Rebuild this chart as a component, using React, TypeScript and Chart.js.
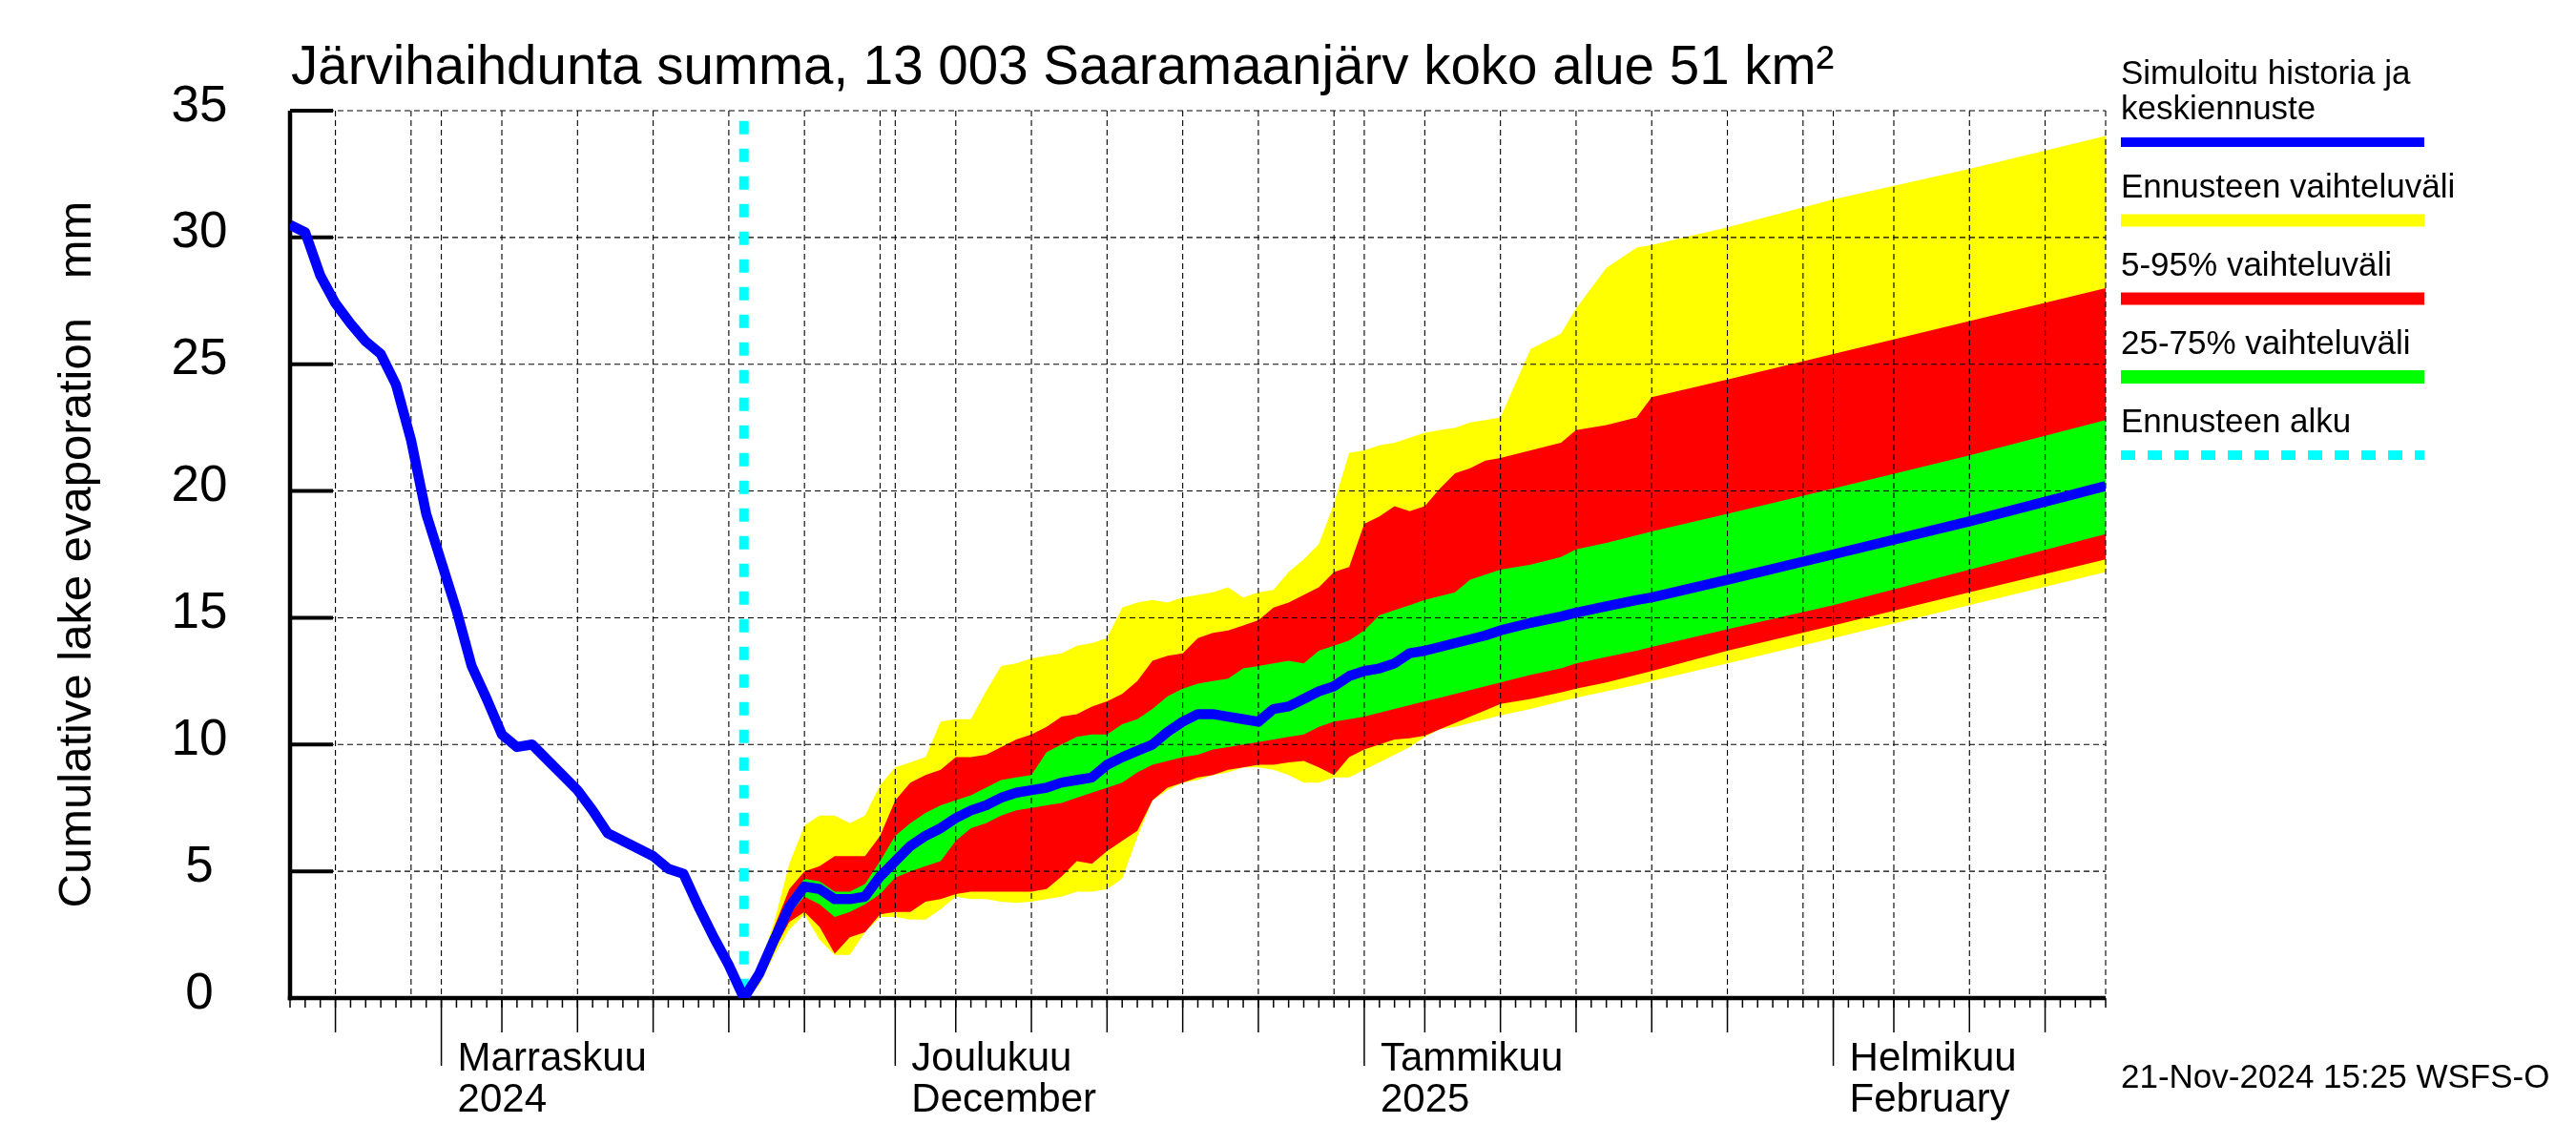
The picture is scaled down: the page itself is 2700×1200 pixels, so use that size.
import React, { useEffect, useRef } from "react";
import { Chart, registerables } from "chart.js";

Chart.register(...registerables);

// x values are days counted from 22 Oct 2024 (day 0) to 19 Feb 2025 (day 120)
const dayMin = 0;
const dayMax = 120;
const forecastStartDay = 30; // 21 Nov 2024

const historyDays = [0,1,2,3,4,5,6,7,8,9,10,11,12,13,14,15,16,17,18,19,20,21,22,23,24,25,26,27,28,29,30];
const historyValues = [30.5,30.2,28.5,27.4,26.6,25.9,25.4,24.2,22.0,19.1,17.2,15.3,13.1,11.8,10.4,9.9,10.0,9.4,8.8,8.2,7.4,6.5,6.2,5.9,5.6,5.1,4.9,3.6,2.4,1.3,0.0];

const forecastDays = [30,31,32,33,34,35,36,37,38,39,40,41,42,43,44,45,46,47,48,49,50,51,52,53,54,55,56,57,58,59,60,61,62,63,64,65,66,67,68,69,70,71,72,73,74,75,76,77,78,79,80,82,84,85,87,89,90,95,102,111,120];

const forecastMax = [0,1.2,3.0,5.3,6.8,7.2,7.2,6.9,7.2,8.4,9.1,9.3,9.5,10.9,11.0,11.0,12.1,13.1,13.2,13.4,13.5,13.6,13.9,14.0,14.2,15.4,15.6,15.7,15.6,15.8,15.9,16.0,16.2,15.8,16.0,16.1,16.8,17.3,17.9,19.5,21.5,21.6,21.8,21.9,22.1,22.3,22.4,22.5,22.7,22.8,22.9,25.6,26.2,27.2,28.8,29.6,29.7,30.4,31.5,32.7,34.0];
const forecastP95 = [0,1.0,2.8,4.3,5.0,5.2,5.6,5.6,5.6,6.4,7.8,8.5,8.8,9.0,9.5,9.5,9.6,9.9,10.2,10.4,10.7,11.1,11.2,11.5,11.7,12.0,12.5,13.3,13.5,13.6,14.2,14.4,14.5,14.7,14.9,15.4,15.6,15.9,16.2,16.8,17.0,18.7,19.0,19.4,19.2,19.4,20.1,20.7,20.9,21.2,21.3,21.6,21.9,22.4,22.6,22.9,23.7,24.4,25.4,26.7,28.0];
const forecastP75 = [0,0.9,2.5,3.9,4.7,4.6,4.2,4.2,4.5,5.4,6.4,6.9,7.3,7.6,7.8,8.0,8.3,8.6,8.7,8.8,9.7,10.0,10.3,10.4,10.4,10.8,11.0,11.4,11.9,12.2,12.4,12.5,12.6,13.0,13.1,13.2,13.3,13.2,13.7,13.9,14.1,14.5,15.1,15.3,15.5,15.7,15.85,16.0,16.5,16.7,16.9,17.1,17.4,17.7,17.95,18.25,18.4,19.1,20.1,21.4,22.8];
const forecastMedian = [0,0.95,2.3,3.6,4.4,4.3,3.9,3.9,4.0,4.8,5.4,6.0,6.4,6.7,7.1,7.4,7.6,7.9,8.1,8.2,8.3,8.5,8.6,8.7,9.2,9.5,9.75,10.0,10.5,10.9,11.2,11.2,11.1,11.0,10.9,11.4,11.5,11.8,12.1,12.3,12.7,12.9,13.0,13.2,13.6,13.7,13.85,14.0,14.15,14.3,14.5,14.8,15.05,15.2,15.45,15.7,15.8,16.5,17.5,18.8,20.2];
const forecastP25 = [0,0.8,2.1,3.3,4.0,3.7,3.2,3.4,3.7,4.1,4.75,5.0,5.2,5.4,6.2,6.7,6.9,7.2,7.4,7.5,7.6,7.7,7.9,8.1,8.3,8.5,8.9,9.2,9.35,9.5,9.6,9.8,9.9,10.0,10.1,10.2,10.3,10.4,10.7,10.9,11.0,11.1,11.25,11.4,11.55,11.7,11.85,12.0,12.15,12.3,12.45,12.75,13.0,13.2,13.45,13.7,13.85,14.55,15.5,16.9,18.3];
const forecastP5 = [0,0.6,1.9,3.0,3.4,2.8,1.75,2.4,2.6,3.3,3.4,3.4,3.8,3.9,4.1,4.2,4.2,4.2,4.2,4.2,4.3,4.8,5.4,5.3,5.8,6.2,6.6,7.8,8.3,8.5,8.7,8.8,9.0,9.1,9.2,9.2,9.3,9.35,9.1,8.8,9.5,9.8,10.0,10.2,10.25,10.35,10.6,10.85,11.1,11.35,11.6,11.8,12.05,12.2,12.45,12.75,12.9,13.7,14.7,16.0,17.3];
const forecastMin = [0,0.5,1.7,2.7,3.3,2.3,1.7,1.7,2.6,3.2,3.2,3.1,3.1,3.5,4.0,3.9,3.9,3.8,3.75,3.8,3.9,4.0,4.2,4.2,4.3,4.7,6.35,7.8,8.2,8.5,8.6,8.8,8.9,9.1,9.1,9.0,8.8,8.5,8.5,8.7,8.7,9.0,9.3,9.6,9.9,10.3,10.6,10.7,10.85,11.0,11.15,11.4,11.7,11.85,12.1,12.35,12.5,13.2,14.2,15.5,16.8];

const yTickValues = [0,5,10,15,20,25,30,35];
const yMax = 35;
const gridDays = [3,8,10,14,19,24,29,34,39,40,44,49,54,59,64,69,71,75,80,85,90,95,100,102,106,111,116,120];
const majorTickDays = [3,14,19,24,29,34,44,49,54,59,64,75,80,85,90,95,106,111,116];
const monthDays = [10,40,71,102];
const monthLabels = [["Marraskuu","2024"],["Joulukuu","December"],["Tammikuu","2025"],["Helmikuu","February"]];

const titleText = "Järvihaihdunta summa, 13 003 Saaramaanjärv koko alue 51 km²";
const yTitleText = "Cumulative lake evaporation   mm";
const stampText = "21-Nov-2024 15:25 WSFS-O";

const BLUE = "#0000ff";
const YELLOW = "#ffff00";
const RED = "#ff0000";
const GREEN = "#00ff00";
const CYAN = "#00ffff";

const legendItems = [
  { lines: ["Simuloitu historia ja", "keskiennuste"], color: BLUE, width: 10, dashed: false },
  { lines: ["Ennusteen vaihteluväli"], color: YELLOW, width: 13, dashed: false },
  { lines: ["5-95% vaihteluväli"], color: RED, width: 13, dashed: false },
  { lines: ["25-75% vaihteluväli"], color: GREEN, width: 14, dashed: false },
  { lines: ["Ennusteen alku"], color: CYAN, width: 10, dashed: true },
];

const FONT = "'Liberation Sans', Arial, Helvetica, sans-serif";
const CYAN_INDEX = 6;

const pts = (days: number[], vals: number[]) => days.map((d, i) => ({ x: d, y: vals[i] }));

function line(ctx: CanvasRenderingContext2D, x1: number, y1: number, x2: number, y2: number) {
  ctx.beginPath();
  ctx.moveTo(x1, y1);
  ctx.lineTo(x2, y2);
  ctx.stroke();
}

const decorPlugin = {
  id: "decor",
  beforeDatasetDraw(chart: any, args: any) {
    if (args.index !== CYAN_INDEX) return;
    const { ctx, chartArea, scales } = chart;
    const { left, right, top, bottom } = chartArea;
    const xs = scales.x;
    const ys = scales.y;
    ctx.save();
    // dashed grid
    ctx.strokeStyle = "#000";
    ctx.lineWidth = 1.1;
    ctx.setLineDash([6, 4]);
    for (const v of yTickValues) {
      if (v === 0) continue;
      const py = ys.getPixelForValue(v);
      line(ctx, left, py, right, py);
    }
    for (const d of gridDays) {
      const px = xs.getPixelForValue(d);
      line(ctx, px, top, px, bottom);
    }
    ctx.setLineDash([]);
    // inward y ticks
    ctx.lineWidth = 4;
    for (const v of yTickValues) {
      if (v === 0) continue;
      const py = ys.getPixelForValue(v);
      line(ctx, left, py, left + 45, py);
    }
    // x ticks
    ctx.lineWidth = 1.5;
    for (let d = dayMin; d <= dayMax; d++) {
      const px = xs.getPixelForValue(d);
      line(ctx, px, bottom, px, bottom + 10);
    }
    for (const d of majorTickDays) {
      const px = xs.getPixelForValue(d);
      line(ctx, px, bottom, px, bottom + 36);
    }
    for (const d of monthDays) {
      const px = xs.getPixelForValue(d);
      line(ctx, px, bottom, px, bottom + 71);
    }
    // axes
    ctx.lineWidth = 4.5;
    line(ctx, left, top, left, bottom + 2.25);
    line(ctx, left - 2.25, bottom, right, bottom);
    ctx.restore();
  },
  afterDraw(chart: any) {
    const { ctx, chartArea, scales } = chart;
    const { left, top, bottom } = chartArea;
    const xs = scales.x;
    const ys = scales.y;
    ctx.save();
    ctx.fillStyle = "#000";
    // title
    ctx.font = `56.5px ${FONT}`;
    ctx.textAlign = "left";
    ctx.textBaseline = "alphabetic";
    ctx.fillText(titleText, left + 1, 88);
    // y tick labels
    ctx.font = `53px ${FONT}`;
    ctx.textAlign = "center";
    ctx.textBaseline = "middle";
    for (const v of yTickValues) {
      const py = ys.getPixelForValue(v);
      ctx.fillText(String(v), 209, py - 4);
    }
    // y title
    ctx.save();
    ctx.translate(81, (top + bottom) / 2);
    ctx.rotate(-Math.PI / 2);
    ctx.font = `49px ${FONT}`;
    ctx.textAlign = "center";
    ctx.textBaseline = "middle";
    ctx.fillText(yTitleText, 0, 0);
    ctx.restore();
    // month labels
    ctx.font = `42px ${FONT}`;
    ctx.textAlign = "left";
    ctx.textBaseline = "alphabetic";
    monthDays.forEach((d, i) => {
      const px = xs.getPixelForValue(d) + 17;
      ctx.fillText(monthLabels[i][0], px, bottom + 76);
      ctx.fillText(monthLabels[i][1], px, bottom + 119);
    });
    // timestamp
    ctx.font = `35px ${FONT}`;
    ctx.fillText(stampText, 2223, 1140);
    // legend
    const lx1 = 2223;
    const lx2 = 2541;
    ctx.font = `35px ${FONT}`;
    let y = 88;
    for (const item of legendItems) {
      item.lines.forEach((t, k) => {
        ctx.fillStyle = "#000";
        ctx.fillText(t, lx1, y + k * 37);
      });
      const ly = y + (item.lines.length - 1) * 37 + 24;
      if (item.dashed) {
        ctx.strokeStyle = item.color;
        ctx.lineWidth = item.width;
        ctx.setLineDash([15, 13]);
        line(ctx, lx1, ly, lx2, ly);
        ctx.setLineDash([]);
      } else {
        ctx.fillStyle = item.color;
        ctx.fillRect(lx1, ly - item.width / 2, lx2 - lx1, item.width);
      }
      y = ly + 58;
    }
    ctx.restore();
  },
};

export default function App() {
  const canvasRef = useRef<HTMLCanvasElement | null>(null);

  useEffect(() => {
    const canvas = canvasRef.current;
    if (!canvas) return;
    const medianLine = [
      ...pts(historyDays.slice(0, historyDays.length - 1), historyValues.slice(0, historyValues.length - 1)),
      ...pts(forecastDays, forecastMedian),
    ];
    const band = (vals: number[], color: string | null, order: number) => ({
      data: pts(forecastDays, vals),
      fill: color ? "+1" : false,
      backgroundColor: color || "rgba(0,0,0,0)",
      borderColor: "rgba(0,0,0,0)",
      borderWidth: 0,
      pointRadius: 0,
      order,
    });
    const chart = new Chart(canvas, {
      type: "line",
      data: {
        datasets: [
          band(forecastMax, YELLOW, 10),
          band(forecastMin, null, 10),
          band(forecastP95, RED, 9),
          band(forecastP5, null, 9),
          band(forecastP75, GREEN, 8),
          band(forecastP25, null, 8),
          {
            data: [{ x: forecastStartDay, y: 34.6 }, { x: forecastStartDay, y: 0 }],
            borderColor: CYAN,
            borderWidth: 10,
            borderDash: [14, 15],
            pointRadius: 0,
            fill: false,
            order: 2,
          },
          {
            data: medianLine,
            borderColor: BLUE,
            borderWidth: 10.5,
            borderJoinStyle: "round",
            pointRadius: 0,
            fill: false,
            order: 1,
          },
        ] as any,
      },
      options: {
        animation: false,
        responsive: false,
        devicePixelRatio: 1,
        layout: { padding: { left: 304, top: 116, right: 2700 - 2207, bottom: 1200 - 1046 } },
        scales: {
          x: { type: "linear", min: dayMin, max: dayMax, display: false },
          y: { type: "linear", min: 0, max: yMax, display: false },
        },
        plugins: {
          legend: { display: false },
          tooltip: { enabled: false },
        },
        elements: { line: { tension: 0 } },
      } as any,
      plugins: [decorPlugin as any],
    });
    return () => chart.destroy();
  }, []);

  return (
    <div style={{ position: "absolute", left: 0, top: 0, width: 2700, height: 1200, background: "#fff" }}>
      <canvas ref={canvasRef} width={2700} height={1200} style={{ display: "block", width: 2700, height: 1200 }} />
    </div>
  );
}
